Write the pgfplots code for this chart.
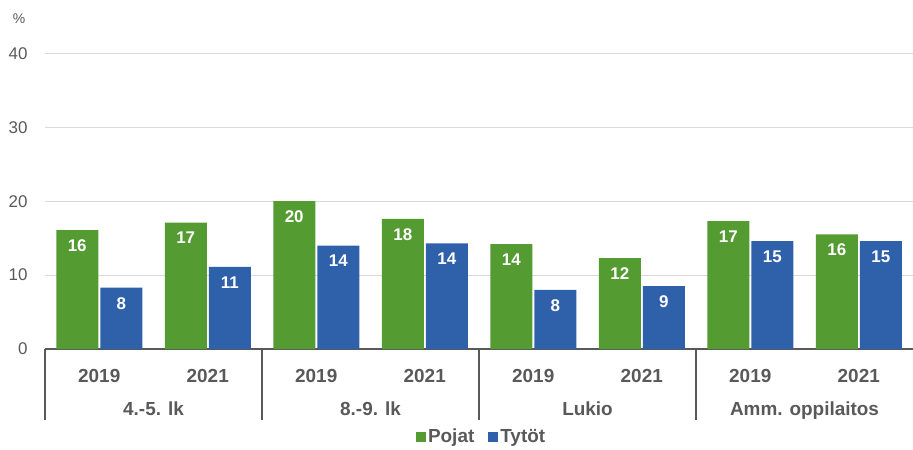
\documentclass[border=0pt]{standalone}
\usepackage{pgfplots}
\pgfplotsset{compat=1.18}
\usepackage{pgfplotstable}
\usepackage{fontspec}
\setmainfont{Liberation Sans}
\definecolor{pgreen}{RGB}{84,155,50}
\definecolor{tblue}{RGB}{47,97,171}
\definecolor{txtgray}{RGB}{89,89,89}
\definecolor{gridgray}{RGB}{217,217,217}

\pgfplotstableread{
x p plab t tlab
0 16.1 16 8.3 8
1 17.1 17 11.1 11
2 20.0 20 14.0 14
3 17.6 18 14.3 14
4 14.2 14 8.0 8
5 12.3 12 8.5 9
6 17.3 17 14.6 15
7 15.5 16 14.6 15
}\datatab

\begin{document}
\begin{tikzpicture}
\path[use as bounding box] (0,0) rectangle (913bp,450bp);
\begin{axis}[
  at={(45bp,101bp)}, anchor=south west,
  scale only axis, width=868bp, height=295.5bp,
  ymin=0, ymax=40, xmin=-0.5, xmax=7.5,
  ybar=2bp, bar width=42bp,
  axis x line*=bottom, axis y line*=left,
  x axis line style={draw=txtgray, line width=1.6bp, -},
  y axis line style={draw=none},
  ytick={0,10,20,30,40},
  ymajorgrids, grid style={gridgray, line width=1bp},
  xtick={0,...,7},
  xticklabels={2019,2021,2019,2021,2019,2021,2019,2021},
  major tick length=0,
  xticklabel style={font=\bfseries\fontsize{19}{19}\selectfont, text=txtgray, yshift=-17bp},
  yticklabel style={font=\fontsize{17}{17}\selectfont, text=txtgray, xshift=-14bp},
  /pgf/number format/assume math mode=true,
  nodes near coords, point meta=explicit symbolic,
  every node near coord/.append style={anchor=north, text=white, font=\bfseries\fontsize{17}{17}\selectfont, yshift=-6bp},
  clip=false,
  legend style={at={(0.503,-0.297)}, anchor=center, draw=none, fill=none,
    legend columns=2, font=\bfseries\fontsize{19}{19}\selectfont, text=txtgray,
    /tikz/every even column/.append style={column sep=12bp}},
  legend image code/.code={\fill[#1] (0bp,-5bp) rectangle (10bp,5bp);},
]
\addplot[fill=pgreen, draw=none] table[x=x, y=p, meta=plab] {\datatab};
\addplot[fill=tblue, draw=none] table[x=x, y=t, meta=tlab] {\datatab};
\legend{Pojat, Tytöt}
\foreach \s in {-0.5,1.5,3.5,5.5} {
  \edef\tmp{\noexpand\draw[txtgray, line width=1.6bp] (axis cs:\s,0) -- ([yshift=-71bp]axis cs:\s,0);}
  \tmp
}
\node[anchor=base, font=\bfseries\fontsize{19}{19}\selectfont, text=txtgray] at ([yshift=-66bp]axis cs:0.5,0) {4.-5. lk};
\node[anchor=base, font=\bfseries\fontsize{19}{19}\selectfont, text=txtgray] at ([yshift=-66bp]axis cs:2.5,0) {8.-9. lk};
\node[anchor=base, font=\bfseries\fontsize{19}{19}\selectfont, text=txtgray] at ([yshift=-66bp]axis cs:4.5,0) {Lukio};
\node[anchor=base, font=\bfseries\fontsize{19}{19}\selectfont, text=txtgray] at ([yshift=-66bp]axis cs:6.5,0) {Amm. oppilaitos};
\end{axis}
\node[font=\fontsize{14}{14}\selectfont, text=txtgray] at (19bp,431bp) {\%};
\end{tikzpicture}
\end{document}
